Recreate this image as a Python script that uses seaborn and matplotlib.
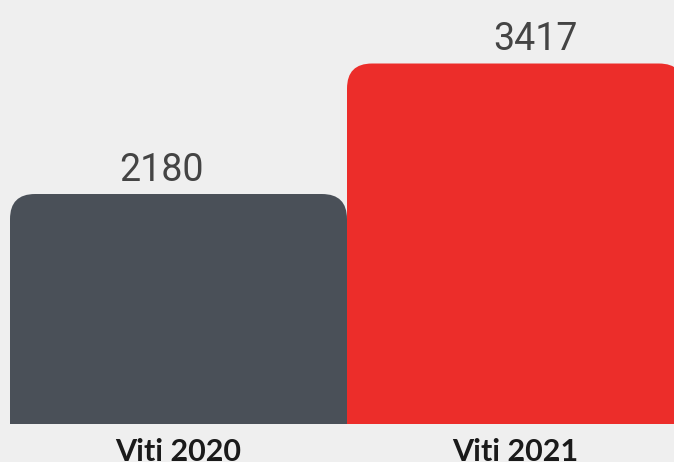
import matplotlib
matplotlib.use("Agg")
import matplotlib.pyplot as plt
from matplotlib.patches import FancyBboxPatch
import seaborn as sns
import pandas as pd

# data
categories = ["Viti 2020", "Viti 2021"]
values = [2180, 3417]
bar_colors = ["#4a5058", "#ec2d2a"]

BG = "#efefef"
W, H = 674, 462

sns.set_theme(style="white")
plt.rcParams["font.family"] = ["Lato", "DejaVu Sans"]

fig = plt.figure(figsize=(W / 100, H / 100), dpi=100, facecolor=BG)
# axes spans x 10..684 px, y baseline at 424 px from top
ax = fig.add_axes([10 / W, 38 / H, 674 / W, 424 / H], facecolor=BG)

df = pd.DataFrame({"year": categories, "count": values})
sns.barplot(data=df, x="year", y="count", hue="year", palette=bar_colors,
            width=1.0, saturation=1, legend=False, ax=ax)

ax.set_xlim(-0.5, 1.5)
ax.set_ylim(0, 424 / 0.1055)

# swap plain bars for ones with rounded top corners
px_x = 337.0   # px per x unit
px_y = 0.1055  # px per y unit
radius = 25 / px_x
aspect = px_x / px_y
for bar in list(ax.patches):
    x0, w, h = bar.get_x(), bar.get_width(), bar.get_height()
    fc = bar.get_facecolor()
    bar.remove()
    ax.add_patch(FancyBboxPatch((x0, -400), w, h + 400,
                                boxstyle=f"round,pad=0,rounding_size={radius}",
                                mutation_aspect=aspect, facecolor=fc,
                                edgecolor="none", clip_on=True))

# value labels (sit a little off centre in the original)
offsets = [-0.05, 0.06]
for i, v in enumerate(values):
    ax.text(i + offsets[i], v + 50, str(v), ha="center", va="bottom",
            fontsize=27, color="#444444", family=["Roboto", "DejaVu Sans"])

ax.set_xticks(range(len(categories)))
ax.set_xticklabels(categories, fontsize=22, fontweight="bold", color="#1a1a1a")
ax.tick_params(axis="x", length=0, pad=10)
ax.set_yticks([])
ax.set_xlabel("")
ax.set_ylabel("")
sns.despine(ax=ax, left=True, bottom=True)

fig.savefig("out.png", dpi=100, facecolor=BG)
